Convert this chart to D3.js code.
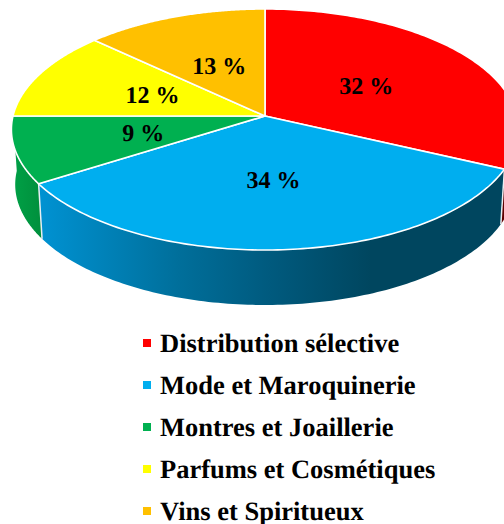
<!DOCTYPE html>
<html><head><meta charset="utf-8">
<script src="https://cdn.jsdelivr.net/npm/d3@7/dist/d3.min.js"></script>
<style>html,body{margin:0;padding:0;background:#fff;overflow:hidden}svg{display:block}text{text-rendering:geometricPrecision}</style>
</head><body><svg id="c" width="504" height="524"></svg>
<script>
const categories = ["Distribution sélective","Mode et Maroquinerie","Montres et Joaillerie","Parfums et Cosmétiques","Vins et Spiritueux"];
const values = [32,34,9,12,13];
const colors = ["#ff0000","#00aeef","#00b050","#ffff00","#ffc000"];

const W=504,H=524,cx=265,cy=116,rx=252,ry=119,persp=0.112,depth=55,shrink=0.985;
const labelRadius=[0.49,0.505,0.495,0.49,0.48];
const svg=d3.select("#c");
const defs=svg.append("defs");
function grad(id,x1,x2,stops){
  const g=defs.append("linearGradient").attr("id",id).attr("gradientUnits","userSpaceOnUse")
    .attr("x1",x1).attr("x2",x2).attr("y1",0).attr("y2",0);
  stops.forEach(s=>g.append("stop").attr("offset",s[0]).attr("stop-color",s[1]));
}
grad("side1",40,500,[[0,"#0092d2"],[0.3,"#006f9b"],[0.5,"#005a7e"],[0.72,"#00465f"],[1,"#00465f"]]);
grad("side2",13,42,[[0,"#00a046"],[1,"#008f3c"]]);
const sideFill=["#5e0000","url(#side1)","url(#side2)",null,null];

const pie=d3.pie().sort(null).value(d=>d);
const arcs=pie(values);
function proj(a,r=1,drop=0){
  const u=-Math.cos(a)*r, v=Math.sin(a)*r, k=1/(1-persp*u);
  const s=drop?shrink:1;
  return [cx+rx*v*k*s, cy+ry*u*k+drop];
}
const line=d3.line();
function steps(a0,a1){ return d3.range(0,121).map(i=>a0+(a1-a0)*i/120); }

arcs.forEach((d,i)=>{
  if(!sideFill[i]) return;
  const a0=Math.max(d.startAngle,Math.PI/2), a1=Math.min(d.endAngle,Math.PI*1.5);
  if(a1<=a0) return;
  const t=steps(a0,a1);
  const pts=t.map(a=>proj(a)).concat(t.slice().reverse().map(a=>proj(a,1,depth)));
  svg.append("path").attr("d",line(pts)+"Z").attr("fill",sideFill[i]);
});
arcs.forEach(d=>{
  const a=d.startAngle;
  if(Math.cos(a)<0 && a>Math.PI/2 && a<Math.PI*1.5){
    svg.append("path").attr("d",line([proj(a),proj(a,1,depth)]))
      .attr("stroke","#e8eef2").attr("stroke-width",1.5).attr("fill","none");
  }
});
arcs.forEach((d,i)=>{
  const pts=[[cx,cy]].concat(steps(d.startAngle,d.endAngle).map(a=>proj(a)));
  svg.append("path").attr("d",line(pts)+"Z").attr("fill",colors[i])
    .attr("stroke","#fff").attr("stroke-width",1.6).attr("stroke-linejoin","round");
});
arcs.forEach((d,i)=>{
  const p=proj((d.startAngle+d.endAngle)/2,labelRadius[i]);
  svg.append("text").attr("x",p[0]).attr("y",p[1]+8).attr("text-anchor","middle")
    .attr("font-family","'Liberation Serif',serif").attr("font-weight","bold")
    .attr("font-size",24).attr("fill","#000").text(d.data+" %");
});
const ly=d3.scalePoint().domain(categories).range([343,511]);
categories.forEach((c,i)=>{
  svg.append("rect").attr("x",143).attr("y",ly(c)-4).attr("width",8).attr("height",8).attr("fill",colors[i]);
  svg.append("text").attr("x",160).attr("y",ly(c)+9)
    .attr("font-family","'Liberation Serif',serif").attr("font-weight","bold")
    .attr("font-size",26.5).attr("fill","#000").text(c);
});
</script></body></html>
